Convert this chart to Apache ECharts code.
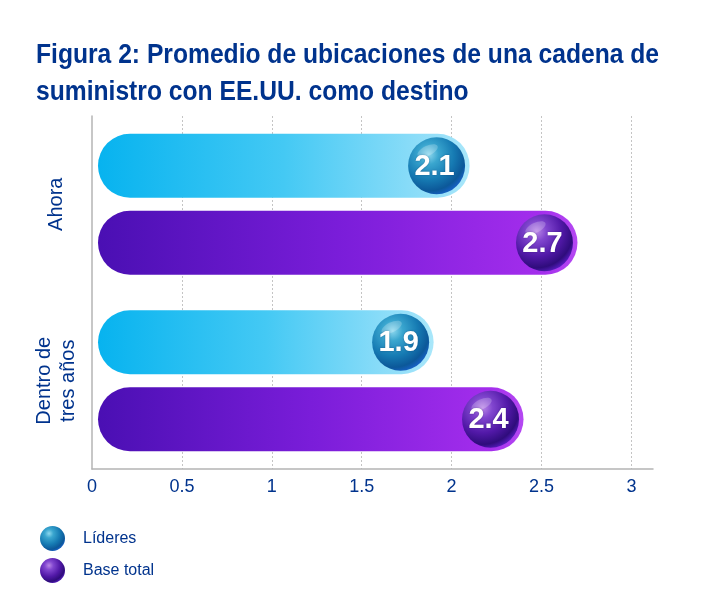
<!DOCTYPE html>
<html>
<head>
<meta charset="utf-8">
<script src="https://cdn.jsdelivr.net/npm/echarts@6/dist/echarts.min.js"></script>
<style>
  html, body { margin: 0; padding: 0; background: #ffffff; }
  #chart { width: 714px; height: 604px; }
</style>
</head>
<body>
<div id="chart"></div>
<script>
// ---- data ----
const titleText = 'Figura 2: Promedio de ubicaciones de una cadena de\nsuministro con EE.UU. como destino';
const categories = ['Ahora', 'Dentro de\ntres años'];
const seriesNames = ['Líderes', 'Base total'];
const lideresValues = [2.1, 1.9];
const baseTotalValues = [2.7, 2.4];
const xTicks = { min: 0, max: 3.12, interval: 0.5 };

// ---- styles ----
const navy = '#00338D';
const G = echarts.graphic;
const barGrads = [
  () => new G.LinearGradient(0, 0, 1, 0, [
    { offset: 0, color: '#07B3EF' },
    { offset: 0.5, color: '#44C9F4' },
    { offset: 0.92, color: '#98E0F9' },
    { offset: 1, color: '#A9E7FA' }
  ]),
  () => new G.LinearGradient(0, 0, 1, 0, [
    { offset: 0, color: '#4A0FB3' },
    { offset: 0.5, color: '#7A1DD9' },
    { offset: 0.92, color: '#A32DEC' },
    { offset: 1, color: '#B548F2' }
  ])
];
const ballGrads = [
  () => new G.RadialGradient(0.36, 0.3, 0.8, [
    { offset: 0, color: '#8DD8EE' },
    { offset: 0.22, color: '#3AA6CF' },
    { offset: 0.55, color: '#167BB3' },
    { offset: 0.8, color: '#0C5899' },
    { offset: 1, color: '#1D66DE' }
  ]),
  () => new G.RadialGradient(0.36, 0.3, 0.8, [
    { offset: 0, color: '#B986E6' },
    { offset: 0.22, color: '#8146CF' },
    { offset: 0.55, color: '#5219A8' },
    { offset: 0.8, color: '#2F0C7C' },
    { offset: 1, color: '#6A24E2' }
  ])
];

function makeRenderer(idx) {
  const slot = idx === 0 ? -38.5 : 38.5;
  return function (params, api) {
    const v = api.value(0);
    const c = api.value(1);
    const s = api.coord([0, c]);
    const e = api.coord([v, c]);
    const cy = s[1] + slot;
    const h = 64;
    const x0 = s[0] + 6;
    const bx = e[0] - 33;
    return {
      type: 'group',
      children: [
        { type: 'rect', shape: { x: x0, y: cy - h / 2, width: e[0] - x0, height: h, r: h / 2 },
          style: { fill: barGrads[idx]() } },
        { type: 'circle', shape: { cx: bx, cy: cy, r: 28.5 }, style: { fill: ballGrads[idx]() } },
        { type: 'ellipse', shape: { cx: bx - 9, cy: cy - 15, rx: 11, ry: 5 },
          rotation: 0.45, originX: bx - 9, originY: cy - 15,
          style: { fill: 'rgba(255,255,255,0.22)' } },
        { type: 'text', x: bx - 2, y: cy + 1,
          style: { text: v.toFixed(1), fill: '#ffffff', font: 'bold 29px "Liberation Sans", Arial, sans-serif',
                   align: 'center', verticalAlign: 'middle',
                   textShadowColor: 'rgba(0,0,40,0.35)', textShadowBlur: 2 } }
      ]
    };
  };
}

const chart = echarts.init(document.getElementById('chart'), null, { renderer: 'canvas' });
chart.setOption({
  backgroundColor: '#ffffff',
  animation: false,
  graphic: [
    {
      type: 'text',
      x: 36,
      y: 37,
      scaleX: 0.88,
      style: {
        text: titleText,
        fill: navy,
        font: 'bold 28px "Liberation Sans", Arial, sans-serif',
        lineHeight: 37,
        align: 'left',
        verticalAlign: 'top'
      }
    }
  ],
  legend: {
    orient: 'vertical',
    left: 35,
    top: 521,
    itemWidth: 25,
    itemHeight: 25,
    itemGap: 7,
    selectedMode: false,
    textStyle: { color: navy, fontSize: 16, fontFamily: '"Liberation Sans", Arial, sans-serif', padding: [0, 0, 0, 13] },
    data: [
      { name: seriesNames[0], icon: 'circle', itemStyle: { color: ballGrads[0]() } },
      { name: seriesNames[1], icon: 'circle', itemStyle: { color: ballGrads[1]() } }
    ]
  },
  grid: { left: 92, right: 61, top: 116, bottom: 135, containLabel: false },
  xAxis: {
    type: 'value',
    min: xTicks.min,
    max: xTicks.max,
    interval: xTicks.interval,
    axisLine: { show: true, lineStyle: { color: '#b4b4b4', width: 1.5 } },
    axisTick: { show: false },
    axisLabel: { color: navy, fontSize: 18, margin: 9, showMaxLabel: false,
                 fontFamily: '"Liberation Sans", Arial, sans-serif' },
    splitLine: { show: true, showMinLine: false, showMaxLine: false,
                 lineStyle: { color: '#c4c4c4', type: [2, 2], width: 1 } }
  },
  yAxis: {
    type: 'category',
    inverse: true,
    data: categories,
    axisLine: { show: true, lineStyle: { color: '#b4b4b4', width: 1.5 } },
    axisTick: { show: false },
    axisLabel: { color: navy, fontSize: 20, lineHeight: 24, rotate: 90, margin: 36,
                 verticalAlign: 'middle', align: 'center',
                 fontFamily: '"Liberation Sans", Arial, sans-serif' },
    splitLine: { show: false }
  },
  series: [
    {
      name: seriesNames[0], type: 'custom',
      itemStyle: { color: '#2AA0D0' },
      encode: { x: 0, y: 1 },
      data: lideresValues.map((v, i) => [v, i]),
      renderItem: makeRenderer(0)
    },
    {
      name: seriesNames[1], type: 'custom',
      itemStyle: { color: '#5A1AB0' },
      encode: { x: 0, y: 1 },
      data: baseTotalValues.map((v, i) => [v, i]),
      renderItem: makeRenderer(1)
    }
  ]
});
</script>
</body>
</html>
